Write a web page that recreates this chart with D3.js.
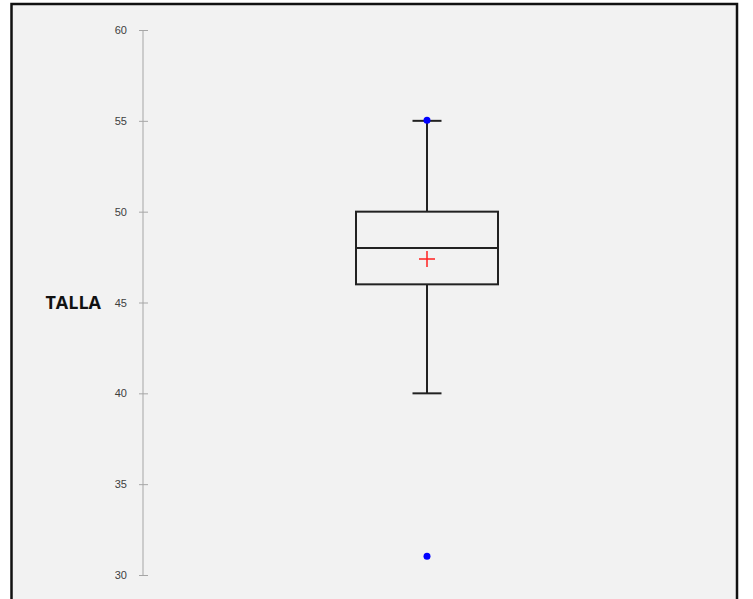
<!DOCTYPE html>
<html><head><meta charset="utf-8">
<script src="https://cdn.jsdelivr.net/npm/d3@7"></script>
<style>html,body{margin:0;padding:0;background:#fff;}</style>
</head><body>
<script>
const category = "TALLA";
const yTicks = [30, 35, 40, 45, 50, 55, 60];
const boxStats = {min: 40, q1: 46, median: 48, q3: 50, max: 55, mean: 47.4};
const points = [55, 31];

const W = 753, H = 599;
const svg = d3.select("body").append("svg").attr("width", W).attr("height", H);
svg.append("rect").attr("x", 11.5).attr("y", 4).attr("width", 725.5).attr("height", 620)
  .attr("fill", "#f2f2f2").attr("stroke", "#111").attr("stroke-width", 2.5);

const y = d3.scaleLinear().domain([30, 60]).range([575, 30]);
const axisX = 143;
const cx = 427, boxHalf = 71, capHalf = 14.5;

const ax = svg.append("g").attr("transform", `translate(${axisX},0)`)
  .call(d3.axisLeft(y).tickValues(yTicks).tickSize(4).tickPadding(12));
ax.select(".domain").attr("stroke", "#a6a6a6").attr("d", `M0,${y(60)}V${y(30)}`);
ax.selectAll(".tick line").attr("stroke", "#a6a6a6").attr("x1", -4).attr("x2", 5);
ax.selectAll(".tick text").attr("fill", "#404040").attr("font-family", "Arial, 'Liberation Sans', sans-serif").attr("font-size", 11);

svg.append("text").attr("x", 101).attr("y", y(45) + 2).attr("text-anchor", "end")
  .attr("dominant-baseline", "middle").attr("font-family", "'Open Sans', Arial, sans-serif")
  .attr("font-weight", "bold").attr("font-size", 18).attr("fill", "#111").text(category);

const g = svg.append("g").attr("stroke", "#222").attr("stroke-width", 2).attr("fill", "none");
g.append("line").attr("x1", cx).attr("x2", cx).attr("y1", y(boxStats.max)).attr("y2", y(boxStats.q3));
g.append("line").attr("x1", cx).attr("x2", cx).attr("y1", y(boxStats.q1)).attr("y2", y(boxStats.min));
g.append("line").attr("x1", cx - capHalf).attr("x2", cx + capHalf).attr("y1", y(boxStats.max)).attr("y2", y(boxStats.max));
g.append("line").attr("x1", cx - capHalf).attr("x2", cx + capHalf).attr("y1", y(boxStats.min)).attr("y2", y(boxStats.min));
g.append("rect").attr("x", cx - boxHalf).attr("y", y(boxStats.q3)).attr("width", boxHalf * 2)
  .attr("height", y(boxStats.q1) - y(boxStats.q3));
g.append("line").attr("x1", cx - boxHalf).attr("x2", cx + boxHalf).attr("y1", y(boxStats.median)).attr("y2", y(boxStats.median));

const my = y(boxStats.mean);
svg.append("path").attr("d", `M${cx - 8},${my}H${cx + 8}M${cx},${my - 8}V${my + 8}`)
  .attr("stroke", "#ff2020").attr("stroke-width", 1.5);

svg.selectAll("circle.pt").data(points).enter().append("circle").attr("class", "pt")
  .attr("cx", cx).attr("cy", d => y(d) - 0.5).attr("r", 3.5).attr("fill", "#0000ff");
</script>
</body></html>
